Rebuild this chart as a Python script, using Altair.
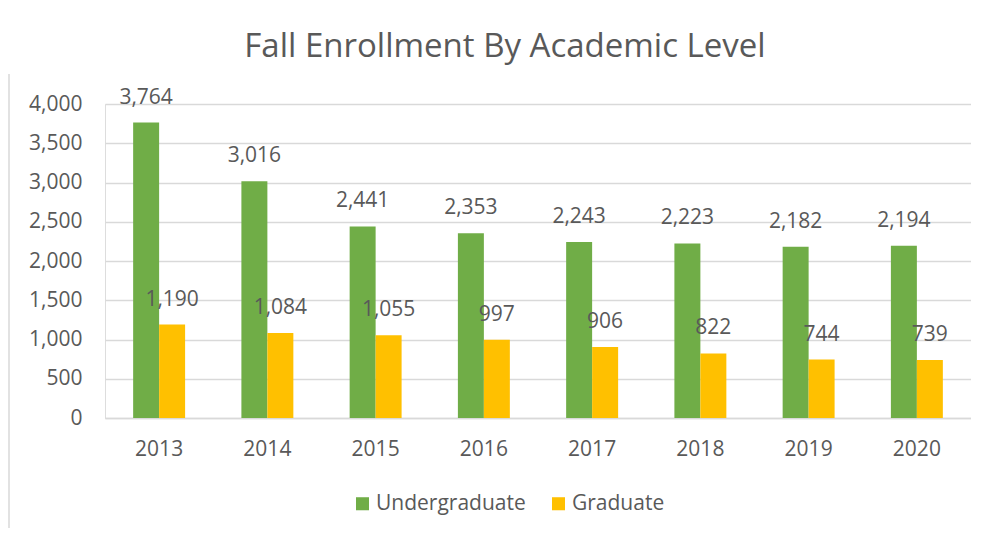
import altair as alt
import pandas as pd

years = ["2013", "2014", "2015", "2016", "2017", "2018", "2019", "2020"]
undergraduate = [3764, 3016, 2441, 2353, 2243, 2223, 2182, 2194]
graduate = [1190, 1084, 1055, 997, 906, 822, 744, 739]
series = ["Undergraduate", "Graduate"]
colors = ["#70AD47", "#FFC000"]
y_ticks = [0, 500, 1000, 1500, 2000, 2500, 3000, 3500, 4000]

rows = []
for i, yr in enumerate(years):
    rows.append({"Year": yr, "Level": series[0], "Value": undergraduate[i]})
    rows.append({"Year": yr, "Level": series[1], "Value": graduate[i]})
df = pd.DataFrame(rows)

FONT = "Open Sans"
TXT = "#595959"
W, H = 866, 314

x_enc = alt.X("Year:N", sort=years,
              scale=alt.Scale(paddingInner=0.52, paddingOuter=0.26),
              axis=alt.Axis(title=None, labelAngle=0, labelFontSize=21, labelColor=TXT,
                            labelFont=FONT, labelPadding=20, tickSize=0,
                            domainColor="#D9D9D9", domainWidth=1.5))
xoff = alt.XOffset("Level:N", sort=series)
y_enc = alt.Y("Value:Q", scale=alt.Scale(domain=[0, 4000]),
              axis=alt.Axis(title=None, values=y_ticks, format=",d", labelFontSize=21,
                            labelColor=TXT, labelFont=FONT, labelPadding=23, tickSize=0,
                            domain=False, gridColor="#D9D9D9", gridWidth=1.5))
color_enc = alt.Color("Level:N", sort=series,
                      scale=alt.Scale(domain=series, range=colors),
                      legend=alt.Legend(title=None, orient="none", direction="horizontal",
                                        legendX=247, legendY=389, symbolType="square",
                                        symbolSize=170, symbolStrokeWidth=0,
                                        labelFontSize=21, labelColor=TXT, labelFont=FONT,
                                        columnPadding=22, symbolOffset=0, labelOffset=3))

base = alt.Chart(df)
bars = base.mark_bar().encode(x=x_enc, xOffset=xoff, y=y_enc, color=color_enc)
labels = base.mark_text(baseline="bottom", dy=-15, fontSize=21, color=TXT, font=FONT).encode(
    x=x_enc, xOffset=xoff, y=y_enc,
    text=alt.Text("Value:Q", format=","))

border = alt.Chart(pd.DataFrame({"a": [0]})).mark_rule(color="#D9D9D9", strokeWidth=1.5).encode(
    x=alt.value(-96), y=alt.value(-30), y2=alt.value(H + 115))

chart = alt.layer(bars, labels, border).properties(
    width=W, height=H,
    autosize=alt.AutoSizeParams(type="none"),
    padding={"left": 97, "top": 96, "right": 0, "bottom": 110},
    title=alt.TitleParams("Fall Enrollment By Academic Level", fontSize=33, font=FONT,
                          color=TXT, fontWeight="normal", anchor="middle", dx=-33,
                          offset=9),
).configure_view(stroke="transparent", strokeWidth=0).configure(background="white")

chart.save("out.html", embed_options={"renderer": "svg", "actions": False})
